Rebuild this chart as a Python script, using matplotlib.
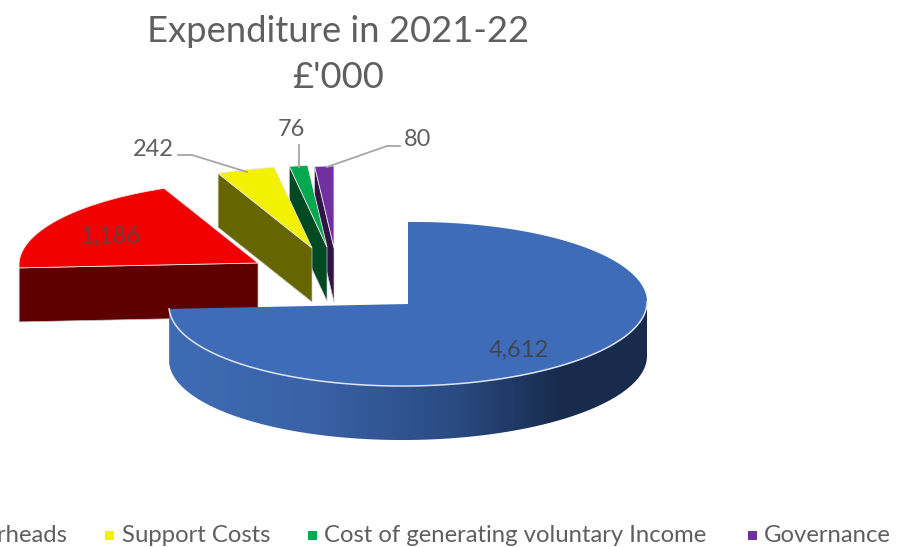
import numpy as np
import matplotlib
matplotlib.use('Agg')
import matplotlib.pyplot as plt
from matplotlib.patches import Polygon, Rectangle

plt.rcParams['font.family'] = ['Lato', 'DejaVu Sans']

values = [4612, 1186, 242, 76, 80]
value_labels = ['4,612', '1,186', '242', '76', '80']
legend_labels = ['Overheads', 'Support Costs', 'Cost of generating voluntary Income', 'Governance']
title_lines = ['Expenditure in 2021-22', "£'000"]

top_colors = ['#3e6cb8', '#f00000', '#f2f200', '#00a84f', '#7030a0']
side_colors = ['#3e6cb8', '#5e0000', '#666600', '#004a23', '#2e1545']
legend_colors = ['#f00000', '#f2f200', '#00a84f', '#7030a0']

# Pie geometry in pixels
cx, cy = 408, 304
rx, ry = 239, 82
depth = 54
skew = -0.0084
explode = [(0, 0), (-150, -41), (-96, -56), (-81, -57), (-74, -56)]
text_grey = '#5f5f5f'


def project(angle, ox, oy):
    # angle in degrees, clockwise from 12 o'clock
    a = np.radians(angle)
    x = rx * np.sin(a)
    y = -ry * np.cos(a) + skew * x
    return np.column_stack([cx + ox + x, cy + oy + y])


fig = plt.figure(figsize=(9.11, 5.47), dpi=100)
ax = fig.add_axes([0, 0, 1, 1])
ax.set_xlim(0, 911)
ax.set_ylim(547, 0)
ax.axis('off')

angles = np.cumsum([0] + values) / sum(values) * 360

# Exploded slices, purple first so that each one sits over the next
for i in [4, 3, 2, 1]:
    ox, oy = explode[i]
    apex = np.array([[cx + ox, cy + oy]])
    arc = project(np.linspace(angles[i], angles[i + 1], 60), ox, oy)
    face = np.vstack([apex, arc[:1], arc[:1] + [0, depth], apex + [0, depth]])
    ax.add_patch(Polygon(face, closed=True, fc=side_colors[i], ec='#c8c8c8', lw=0.5, zorder=7 - i))
    ax.add_patch(Polygon(np.vstack([apex, arc]), closed=True, fc=top_colors[i], ec='#f4e6e6', lw=0.6, zorder=7 - i))

# Blue slice wall with a left to right gradient
front = project(np.linspace(angles[1], 90, 200), 0, 0)
wall = np.vstack([front, (front + [0, depth])[::-1]])
wall_patch = Polygon(wall, closed=True, fc='none', ec='none', zorder=10)
ax.add_patch(wall_patch)
cmap = matplotlib.colors.LinearSegmentedColormap.from_list(
    'wall', [(0, '#3e6cb5'), (0.3, '#3a62a6'), (0.6, '#2a4a82'), (0.82, '#182b4d'), (1, '#182b4d')])
grad = ax.imshow(np.linspace(0, 1, 256).reshape(1, -1), cmap=cmap, aspect='auto',
                 extent=[cx - rx, cx + rx, cy + ry + depth + 5, cy - 5], zorder=10)
grad.set_clip_path(wall_patch)
ax.set_xlim(0, 911)
ax.set_ylim(547, 0)

# Blue slice top
arc = project(np.linspace(angles[0], angles[1], 300), 0, 0)
ax.add_patch(Polygon(np.vstack([[[cx, cy]], arc]), closed=True, fc=top_colors[0], ec='none', zorder=11))
rim = project(np.linspace(90, angles[1], 200), 0, 0)
ax.plot(rim[:, 0], rim[:, 1], color='#dfe5f0', lw=1.1, zorder=12)

# Value labels and leader lines
ax.text(519, 350, value_labels[0], color='#404552', fontsize=17, ha='center', va='center', zorder=20)
ax.text(110, 236, value_labels[1], color='#6e3a3a', fontsize=17, ha='center', va='center', zorder=20)
ax.text(153, 149, value_labels[2], color=text_grey, fontsize=17, ha='center', va='center', zorder=20)
ax.text(291, 130, value_labels[3], color=text_grey, fontsize=17, ha='center', va='center', zorder=20)
ax.text(418, 140, value_labels[4], color=text_grey, fontsize=17, ha='center', va='center', zorder=20)
ax.plot([178, 192, 247], [155, 155, 172], color='#a6a6a6', lw=1.3, zorder=19)
ax.plot([299, 299], [145, 167], color='#a6a6a6', lw=1.3, zorder=19)
ax.plot([400, 387, 327], [146, 146, 167], color='#a6a6a6', lw=1.3, zorder=19)

# Title
ax.text(338, 31, title_lines[0], color=text_grey, fontsize=26.2, ha='center', va='center')
ax.text(338, 78, title_lines[1], color=text_grey, fontsize=26.2, ha='center', va='center')

# Legend, first entries run off the left edge as in the source image
ax.text(68, 536, legend_labels[0], color=text_grey, fontsize=17.2, ha='right', va='center')
ax.add_patch(Rectangle((105, 531), 9, 9, fc=legend_colors[1], ec='none'))
ax.text(122, 536, legend_labels[1], color=text_grey, fontsize=17.2, ha='left', va='center')
ax.add_patch(Rectangle((308, 531), 9, 9, fc=legend_colors[2], ec='none'))
ax.text(324, 536, legend_labels[2], color=text_grey, fontsize=17.2, ha='left', va='center')
ax.add_patch(Rectangle((748, 531), 9, 9, fc=legend_colors[3], ec='none'))
ax.text(764, 536, legend_labels[3], color=text_grey, fontsize=17.2, ha='left', va='center')

fig.savefig('out.png', dpi=100)
